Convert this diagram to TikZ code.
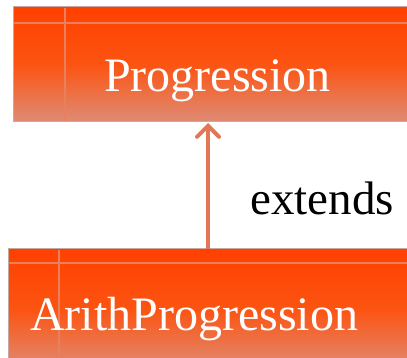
\documentclass[tikz,border=0pt]{standalone}
\usepackage{fontspec}
\setmainfont{Liberation Serif}
\usetikzlibrary{arrows.meta}
\definecolor{topc}{HTML}{FF4000}
\definecolor{midc}{HTML}{FC5412}
\definecolor{botc}{HTML}{DE8C76}
\definecolor{linec}{HTML}{E8805E}
\definecolor{edgec}{HTML}{C9A79E}
\definecolor{arrc}{HTML}{E07858}
\tikzset{
  classbox/.style={draw=edgec, line width=1pt, top color=topc, bottom color=botc, middle color=midc},
  divider/.style={draw=linec, line width=2pt},
  clsname/.style={text=white, font=\fontsize{48}{48}\selectfont, anchor=base west, inner sep=0pt},
  lbl/.style={text=black, font=\fontsize{47}{47}\selectfont, anchor=base west, inner sep=0pt},
  inherit/.style={draw=arrc, line width=4pt, -{Straight Barb[length=11pt,width=22pt,line width=4pt,line cap=round]}}
}
\begin{document}
\begin{tikzpicture}[x=1pt,y=-1pt]
\useasboundingbox (0,0) rectangle (407,358);
% top class
\path[classbox] (13,7) rectangle (420,122);
\draw[divider] (14,23) -- (420,23);
\draw[divider] (65,8) -- (65,121);
\node[clsname] (p) at (104,92) {Progression};
\coordinate (ptop) at (208,123);
% bottom class
\path[classbox] (8,249) rectangle (420,370);
\draw[divider] (9,263) -- (420,263);
\draw[divider] (59,250) -- (59,370);
\node[clsname] (a) at (30,330) {ArithProgression};
\coordinate (abot) at (208,249);
% arrow
\draw[inherit] (abot) -- (ptop);
\node[lbl] (e) at (250,215) {extends};
\end{tikzpicture}
\end{document}
